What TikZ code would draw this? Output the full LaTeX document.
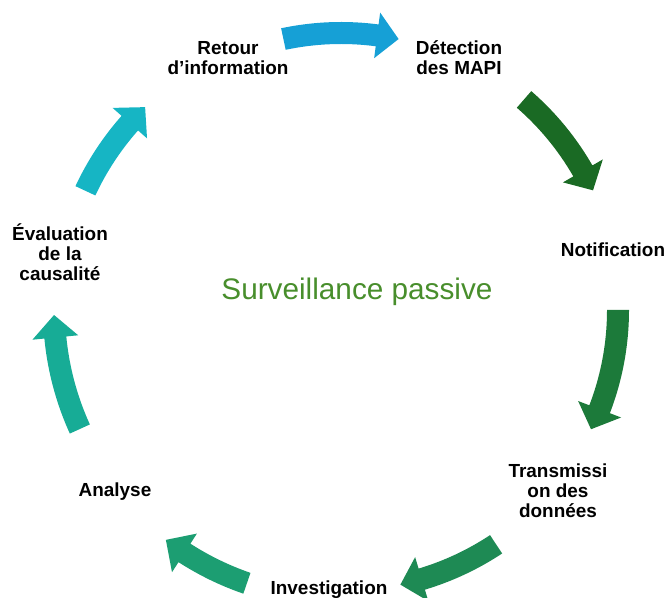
\documentclass[tikz,border=0pt]{standalone}
\usepackage{fontspec}
\setmainfont{Liberation Sans}
\usepackage{tikz}
\usetikzlibrary{positioning}
\definecolor{fbleu}{RGB}{22,160,214}
\definecolor{fvert1}{RGB}{26,106,36}
\definecolor{fvert2}{RGB}{28,122,58}
\definecolor{fvert3}{RGB}{30,138,84}
\definecolor{fvert4}{RGB}{28,158,114}
\definecolor{fvert5}{RGB}{23,172,150}
\definecolor{fcyan}{RGB}{22,181,196}
\definecolor{vtitre}{RGB}{72,142,44}
% fleche courbe: angle de depart, angle de la pointe, rayon, couleur
\newcommand{\fleche}[4]{%
  \fill[#4] (#1:#3+11) arc[start angle=#1,end angle={#2+4.5},radius=#3+11]
    -- ({#2+4.5}:#3+23) -- (#2:#3) -- ({#2+4.5}:#3-23)
    -- ({#2+4.5}:#3-11) arc[start angle={#2+4.5},end angle=#1,radius=#3-11] -- cycle;}
\tikzset{
  etape/.style={font=\fontsize{14.2}{15}\selectfont\bfseries,align=center,inner sep=0pt},
  titre/.style={font=\fontsize{22.3}{26}\selectfont,text=vtitre,inner sep=0pt},
}

\begin{document}
\begin{tikzpicture}[x=0.75pt,y=0.75pt]
  \useasboundingbox (0,0) rectangle (667,598);
  \begin{scope}[shift={(341,288)}]
    \fleche{102}{78}{277}{fbleu}
    \fleche{49}{25.4}{279}{fvert1}
    \fleche{0}{-25.5}{277}{fvert2}
    \fleche{-56.5}{-77.8}{281}{fvert3}
    \fleche{-109}{-127.3}{289}{fvert4}
    \fleche{-155.5}{-179}{287}{fvert5}
    \fleche{155}{134}{282}{fcyan}
  \end{scope}
  \node[titre] (centre) at (357,306) {Surveillance passive};
  \node[etape] (retour) at (228,540) {Retour\\d’information};
  \node[etape] (detect) at (459,540) {Détection\\des MAPI};
  \node[etape] (notif) at (613,348) {Notification};
  \node[etape] (transm) at (558,107) {Transmissi\\on des\\données};
  \node[etape] (invest) at (329,8) {Investigation};
  \node[etape] (analyse) at (115,106) {Analyse};
  \node[etape] (evalu) at (60,346) {Évaluation\\de la\\causalité};
\end{tikzpicture}
\end{document}
